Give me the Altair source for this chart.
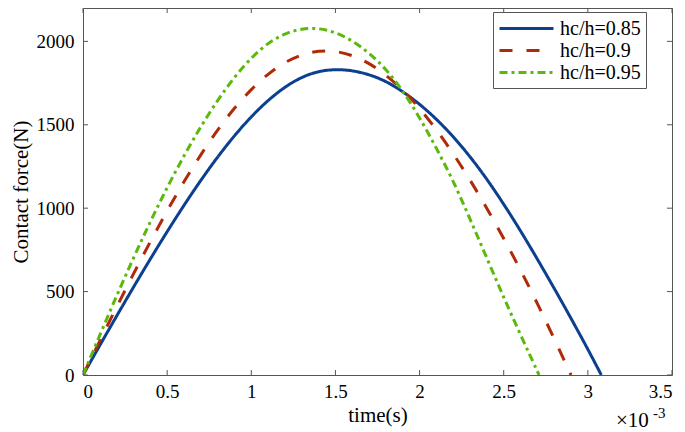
import altair as alt
import pandas as pd

# ---- data (time in ms, force in N) ----
t_085 = [0, 0.1, 0.2, 0.3, 0.4, 0.5, 0.6, 0.7, 0.8, 0.9, 1.0, 1.1, 1.2, 1.3, 1.4, 1.5,
         1.6, 1.7, 1.8, 1.9, 2.0, 2.1, 2.2, 2.3, 2.4, 2.5, 2.6, 2.7, 2.8, 2.9, 3.0, 3.08]
f_085 = [0, 178, 354, 527, 696, 860, 1018, 1168, 1308, 1436, 1550, 1648, 1728, 1787, 1822, 1833,
         1826, 1802, 1762, 1700, 1625, 1535, 1430, 1310, 1175, 1025, 865, 695, 520, 340, 155, 0]

t_090 = [0, 0.1, 0.2, 0.3, 0.4, 0.5, 0.6, 0.7, 0.8, 0.9, 1.0, 1.1, 1.2, 1.3, 1.4, 1.5,
         1.6, 1.7, 1.8, 1.9, 2.0, 2.1, 2.2, 2.3, 2.4, 2.5, 2.6, 2.7, 2.8, 2.9]
f_090 = [0, 205, 408, 607, 800, 985, 1160, 1322, 1470, 1602, 1714, 1806, 1876, 1922, 1944, 1943,
         1918, 1870, 1800, 1710, 1600, 1472, 1328, 1170, 1000, 820, 630, 430, 218, 0]

t_095 = [0, 0.1, 0.2, 0.3, 0.4, 0.5, 0.6, 0.7, 0.8, 0.9, 1.0, 1.1, 1.2, 1.3, 1.4, 1.5,
         1.6, 1.7, 1.8, 1.9, 2.0, 2.1, 2.2, 2.3, 2.4, 2.5, 2.6, 2.71]
f_095 = [0, 240, 475, 703, 920, 1125, 1315, 1490, 1648, 1787, 1903, 1992, 2048, 2077, 2080, 2055,
         2005, 1932, 1835, 1705, 1545, 1360, 1165, 935, 700, 465, 240, 0]

series = ["hc/h=0.85", "hc/h=0.9", "hc/h=0.95"]
colors = ["#0b3f8f", "#b02a08", "#5cb80a"]
dashes = [[1, 0], [13, 14], [8, 4, 3, 4]]

x_ticks = [0, 0.5, 1, 1.5, 2, 2.5, 3, 3.5]
y_ticks = [0, 500, 1000, 1500, 2000]

rows = []
for name, ts, fs in zip(series, [t_085, t_090, t_095], [f_085, f_090, f_095]):
    for t, f in zip(ts, fs):
        rows.append({"series": name, "t": t, "f": f})
df = pd.DataFrame(rows)
df_xt = pd.DataFrame({"t": x_ticks})
df_yt = pd.DataFrame({"f": y_ticks})

W, H = 589, 367
FONT = "Liberation Serif, DejaVu Serif, serif"

xscale = alt.Scale(domain=[0, 3.5], nice=False, zero=False)
yscale = alt.Scale(domain=[0, 2200], nice=False)

leg = alt.Legend(title=None, orient="none", legendX=410, legendY=4)

x_axis = alt.Axis(values=x_ticks, format="~g", title="time(s)", ticks=False,
                  domain=False, grid=False, labelPadding=7, titlePadding=3)
y_axis = alt.Axis(values=y_ticks, format="d", title="Contact force(N)", ticks=False,
                  domain=False, grid=False, labelPadding=9, titlePadding=5)

lines = alt.Chart(df).mark_line(strokeWidth=3, interpolate="basis", clip=True).encode(
    x=alt.X("t:Q", scale=xscale, axis=x_axis, title="time(s)"),
    y=alt.Y("f:Q", scale=yscale, axis=y_axis, title="Contact force(N)"),
    color=alt.Color("series:N", scale=alt.Scale(domain=series, range=colors), legend=leg),
    strokeDash=alt.StrokeDash("series:N", scale=alt.Scale(domain=series, range=dashes), legend=leg),
)

tick_col = "#555555"
xb = alt.Chart(df_xt).mark_rule(color=tick_col, strokeWidth=1).encode(
    x=alt.X("t:Q", scale=xscale, axis=x_axis, title="time(s)"), y=alt.value(H), y2=alt.value(H - 5))
xt = alt.Chart(df_xt).mark_rule(color=tick_col, strokeWidth=1).encode(
    x=alt.X("t:Q", scale=xscale, axis=x_axis, title="time(s)"), y=alt.value(0), y2=alt.value(5))
yl = alt.Chart(df_yt).mark_rule(color=tick_col, strokeWidth=1).encode(
    y=alt.Y("f:Q", scale=yscale, axis=y_axis, title="Contact force(N)"), x=alt.value(0), x2=alt.value(5))
yr = alt.Chart(df_yt).mark_rule(color=tick_col, strokeWidth=1).encode(
    y=alt.Y("f:Q", scale=yscale, axis=y_axis, title="Contact force(N)"), x=alt.value(W), x2=alt.value(W - 5))

mult = alt.Chart(pd.DataFrame({"s": ["\u00d710"]})).mark_text(
    font=FONT, fontSize=21, align="left", baseline="alphabetic", color="black").encode(
    text="s:N", x=alt.value(533), y=alt.value(419))
expo = alt.Chart(pd.DataFrame({"s": ["-3"]})).mark_text(
    font=FONT, fontSize=15, align="left", baseline="alphabetic", color="black").encode(
    text="s:N", x=alt.value(570), y=alt.value(410))

chart = alt.layer(lines, xb, xt, yl, yr, mult, expo).properties(
    width=W, height=H,
    autosize=alt.AutoSizeParams(type="none"),
    padding={"left": 75, "top": 0, "right": 5, "bottom": 58},
).configure_view(stroke="#555555", strokeWidth=1).configure_axis(
    labelFont=FONT, labelFontSize=19, labelColor="black",
    titleFont=FONT, titleFontSize=21, titleColor="black", titleFontWeight="normal",
).configure_legend(
    symbolType="M-2.7,0H2.7", symbolSize=400, symbolStrokeWidth=3, symbolOffset=17,
    labelFont=FONT, labelFontSize=20, labelColor="black", labelOffset=22,
    fillColor="white", strokeColor="#555555", padding=5, rowPadding=0,
)

chart.save("out.html", embed_options={"renderer": "svg", "actions": False})
